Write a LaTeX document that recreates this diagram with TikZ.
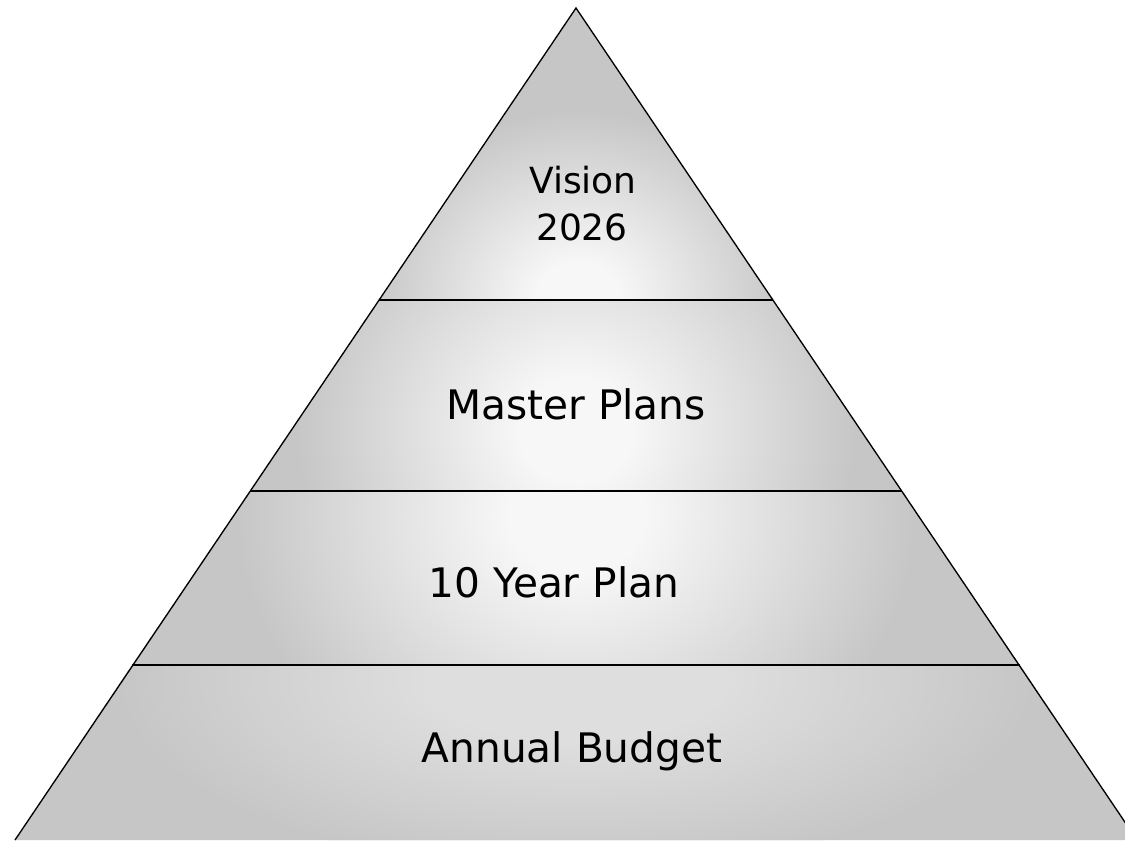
\documentclass[tikz,border=0pt]{standalone}
\usepackage{fontspec}
\setmainfont{DejaVu Sans}
\definecolor{edgegray}{RGB}{198,198,198}
\definecolor{lightc}{RGB}{247,247,247}
\definecolor{midc}{RGB}{222,222,222}
\pgfdeclareradialshading{glow}{\pgfpoint{0bp}{0bp}}{color(0bp)=(lightc); color(5bp)=(lightc); color(25bp)=(edgegray); color(50bp)=(edgegray)}
\pgfdeclareradialshading{glowsoft}{\pgfpoint{0bp}{0bp}}{color(0bp)=(midc); color(8bp)=(midc); color(25bp)=(edgegray); color(50bp)=(edgegray)}
\tikzset{
  outline/.style={draw=black, line width=1pt, line join=miter},
  divider/.style={draw=black, line width=1.6pt},
  lbl/.style={anchor=base, inner sep=0pt, font=\fontsize{30.5}{36}\selectfont},
  lblsmall/.style={anchor=base, inner sep=0pt, font=\fontsize{27}{32}\selectfont},
}
\begin{document}
\begin{tikzpicture}[x=0.75pt, y=-0.75pt]
\useasboundingbox (0,0) rectangle (1125,840);
% triangle corners and band edges
\coordinate (apex) at (576,8);
\coordinate (bl) at (15,840);
\coordinate (br) at (1137,840);
\coordinate (l1) at (379,300);   \coordinate (r1) at (773,300);
\coordinate (l2) at (250,491);   \coordinate (r2) at (902,491);
\coordinate (l3) at (132,665);   \coordinate (r3) at (1020,665);

% band 1 (top)
\begin{scope}
\clip (apex) -- (r1) -- (l1) -- cycle;
\fill[edgegray] (apex) -- (r1) -- (l1) -- cycle;
\shade[shading=glow] (578,300) ellipse (210 and 190);
\end{scope}
% band 2
\begin{scope}
\clip (l1) -- (r1) -- (r2) -- (l2) -- cycle;
\fill[edgegray] (l1) -- (r1) -- (r2) -- (l2) -- cycle;
\shade[shading=glow] (576,430) ellipse (280 and 260);
\end{scope}
% band 3
\begin{scope}
\clip (l2) -- (r2) -- (r3) -- (l3) -- cycle;
\fill[edgegray] (l2) -- (r2) -- (r3) -- (l3) -- cycle;
\shade[shading=glow] (576,515) ellipse (340 and 290);
\end{scope}
% band 4
\begin{scope}
\clip (l3) -- (r3) -- (br) -- (bl) -- cycle;
\fill[edgegray] (l3) -- (r3) -- (br) -- (bl) -- cycle;
\shade[shading=glowsoft] (576,680) ellipse (460 and 190);
\end{scope}

% outline and dividers
\draw[outline] (bl) -- (apex) -- (br);
\draw[divider] (l1) -- (r1);
\draw[divider] (l2) -- (r2);
\draw[divider] (l3) -- (r3);

% labels
\node[lblsmall] (vis) at (583,193) {Vision};
\node[lblsmall] (yr) at (582,240) {2026};
\node[lbl] (mp) at (576,419) {Master Plans};
\node[lbl] (ty) at (554,597) {10 Year Plan};
\node[lbl] (ab) at (572,762) {Annual Budget};
\end{tikzpicture}
\end{document}
